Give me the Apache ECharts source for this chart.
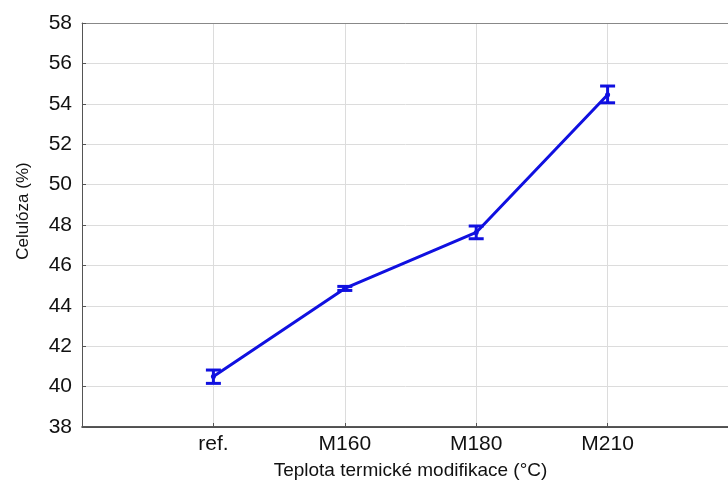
<!DOCTYPE html>
<html>
<head>
<meta charset="utf-8">
<script src="https://cdn.jsdelivr.net/npm/echarts@6/dist/echarts.min.js"></script>
<style>html,body{margin:0;padding:0;background:#fff}#c{width:728px;height:481px}</style>
</head>
<body>
<div id="c"></div>
<script>
const categories = ['', 'ref.', 'M160', 'M180', 'M210', ''];
const means = [null, 40.5, 44.86, 47.63, 54.45, null];
const lower = [null, 40.16, 44.76, 47.32, 54.05, null];
const upper = [null, 40.82, 44.96, 47.95, 54.88, null];
const yTicks = [38, 40, 42, 44, 46, 48, 50, 52, 54, 56, 58];

const blue = '#1010e0';
const chart = echarts.init(document.getElementById('c'));
const errData = [];
for (let i = 0; i < categories.length; i++) {
  if (means[i] !== null) errData.push([i, lower[i], upper[i]]);
}
chart.setOption({
  animation: false,
  grid: {left: 82, top: 23, bottom: 54, right: -11, containLabel: false, outerBoundsMode: 'none'},
  xAxis: [{
    type: 'category',
    data: categories,
    boundaryGap: false,
    position: 'bottom',
    name: 'Teplota termické modifikace (°C)',
    nameLocation: 'middle',
    nameGap: 34,
    nameTextStyle: {fontFamily: 'Liberation Sans', fontSize: 19, color: '#111'},
    axisLine: {lineStyle: {color: '#222', width: 1.5}},
    axisTick: {show: true, inside: true, length: 4, lineStyle: {color: '#555'}},
    axisLabel: {fontFamily: 'Liberation Sans', fontSize: 21, color: '#111', margin: 7},
    splitLine: {show: true, lineStyle: {color: '#dcdcdc', width: 1}}
  }, {
    type: 'category',
    data: categories,
    boundaryGap: false,
    position: 'top',
    axisLine: {lineStyle: {color: '#888', width: 1}},
    axisTick: {show: false},
    axisLabel: {show: false},
    splitLine: {show: false}
  }],
  yAxis: {
    type: 'value',
    min: yTicks[0],
    max: yTicks[yTicks.length - 1],
    interval: 2,
    name: 'Celulóza (%)',
    nameLocation: 'middle',
    nameGap: 50,
    nameTextStyle: {fontFamily: 'Liberation Sans', fontSize: 17, color: '#111', padding: [0, 0, 0, 28]},
    axisLine: {show: true, lineStyle: {color: '#555', width: 1}},
    axisTick: {show: true, inside: true, length: 4, lineStyle: {color: '#555'}},
    axisLabel: {fontFamily: 'Liberation Sans', fontSize: 21, color: '#111', margin: 10},
    splitLine: {show: true, lineStyle: {color: '#dcdcdc', width: 1}}
  },
  series: [{
    type: 'line',
    data: means,
    connectNulls: false,
    symbol: 'circle',
    symbolSize: 5,
    itemStyle: {color: blue},
    lineStyle: {color: blue, width: 3},
    z: 3
  }, {
    type: 'custom',
    data: errData,
    z: 4,
    renderItem: function (params, api) {
      const x = api.value(0);
      const lo = api.coord([x, api.value(1)]);
      const hi = api.coord([x, api.value(2)]);
      const w = 7.5;
      const st = {stroke: blue, lineWidth: 3};
      return {type: 'group', children: [
        {type: 'line', shape: {x1: lo[0], y1: lo[1], x2: hi[0], y2: hi[1]}, style: st},
        {type: 'line', shape: {x1: lo[0] - w, y1: lo[1], x2: lo[0] + w, y2: lo[1]}, style: st},
        {type: 'line', shape: {x1: hi[0] - w, y1: hi[1], x2: hi[0] + w, y2: hi[1]}, style: st}
      ]};
    }
  }]
});
</script>
</body>
</html>
